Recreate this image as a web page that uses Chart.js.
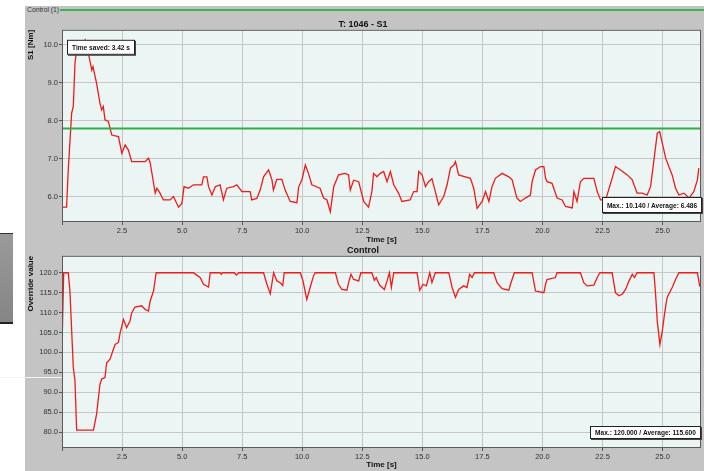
<!DOCTYPE html>
<html>
<head>
<meta charset="utf-8">
<script src="https://cdn.jsdelivr.net/npm/chart.js@4.4.1/dist/chart.umd.min.js"></script>
<style>
  body { margin: 0; background: #fff; width: 704px; height: 471px; overflow: hidden; position: relative; font-family: 'Liberation Sans', sans-serif; }
  #panel { position: absolute; left: 25px; top: 6px; width: 679px; height: 465px; background: #c4c4c4; }
  #head { position: absolute; left: 27px; top: 5px; font-size: 8px; color: #333; transform: scaleX(0.85); transform-origin: left top; }
  #headLine { position: absolute; left: 60px; top: 9px; width: 644px; height: 2px; background: #3cb44b; }
  #side { position: absolute; left: 0; top: 233px; width: 13px; height: 88px; background: linear-gradient(#9a9a9a, #858585); border-top: 1px solid #333; border-bottom: 2px solid #222; }
  #scratch { position: absolute; left: 0; top: 377px; width: 62px; height: 1px; background: #f4f4f4; }
  canvas { position: absolute; }
</style>
</head>
<body>
<div id="panel"></div>
<div id="head">Control (1)</div>
<div id="headLine"></div>
<div id="side"></div>
<canvas id="topChart" width="679" height="230" style="left:25px;top:16px"></canvas>
<canvas id="botChart" width="679" height="227" style="left:25px;top:244px"></canvas>
<div id="scratch"></div>
<script>
// dados: [tempo (s), valor]
const s1Points = [[0,5.73],[0.19,5.73],[0.26,6.71],[0.40,8.2],[0.47,8.38],[0.54,9.52],[0.61,9.87],[0.96,10.14],[1.10,9.78],[1.24,9.34],[1.29,9.43],[1.44,8.99],[1.58,8.47],[1.65,8.29],[1.72,8.38],[1.79,8.03],[1.93,7.99],[2.07,7.63],[2.35,7.59],[2.49,7.15],[2.63,7.37],[2.76,7.24],[2.90,6.93],[3.46,6.93],[3.60,7.02],[3.67,6.90],[3.88,6.10],[3.95,6.23],[4.08,6.10],[4.22,5.92],[4.50,5.92],[4.64,6.01],[4.85,5.73],[4.99,5.83],[5.08,6.27],[5.26,6.23],[5.47,6.32],[5.82,6.32],[5.89,6.53],[6.03,6.53],[6.10,6.27],[6.24,6.05],[6.38,6.27],[6.58,6.32],[6.72,5.92],[6.86,6.23],[7.14,6.27],[7.28,6.32],[7.49,6.14],[7.83,6.14],[7.90,5.92],[8.11,5.96],[8.25,6.18],[8.39,6.53],[8.60,6.71],[8.74,6.45],[8.80,6.18],[8.94,6.46],[9.15,6.46],[9.29,6.18],[9.50,5.88],[9.78,5.85],[9.85,6.26],[9.99,6.46],[10.13,6.84],[10.26,6.62],[10.40,6.32],[10.74,6.23],[10.89,5.97],[11.03,5.92],[11.17,5.61],[11.31,6.27],[11.51,6.58],[11.79,6.62],[11.93,6.58],[12.00,6.18],[12.14,6.44],[12.35,6.40],[12.56,5.88],[12.76,5.73],[12.90,6.14],[12.97,6.62],[13.11,6.53],[13.25,6.62],[13.39,6.67],[13.53,6.40],[13.67,6.67],[13.81,6.32],[14.01,6.10],[14.15,5.88],[14.49,5.92],[14.64,6.14],[14.78,6.14],[14.85,6.67],[14.99,6.58],[15.13,6.27],[15.26,6.40],[15.40,6.48],[15.54,6.14],[15.68,5.79],[15.89,6.01],[16.03,6.32],[16.17,6.76],[16.31,6.84],[16.38,6.93],[16.51,6.58],[16.79,6.53],[17.00,6.49],[17.14,6.23],[17.28,5.70],[17.49,5.88],[17.63,6.14],[17.77,5.88],[17.90,6.27],[18.04,6.49],[18.32,6.62],[18.60,6.53],[18.74,6.45],[18.81,6.27],[18.94,5.97],[19.08,5.88],[19.29,5.97],[19.50,6.05],[19.57,6.40],[19.71,6.71],[19.92,6.80],[20.06,6.80],[20.13,6.49],[20.19,6.40],[20.40,6.36],[20.61,5.97],[20.82,5.92],[20.96,5.75],[21.24,5.71],[21.31,6.14],[21.44,5.88],[21.58,6.40],[21.72,6.49],[22.14,6.49],[22.28,6.14],[22.42,5.92],[22.63,5.92],[22.90,6.49],[23.04,6.80],[23.25,6.71],[23.53,6.58],[23.74,6.45],[23.81,6.32],[23.94,6.10],[24.15,6.10],[24.36,6.05],[24.50,6.27],[24.64,6.97],[24.78,7.68],[24.88,7.72],[24.99,7.41],[25.13,7.02],[25.26,6.80],[25.40,6.58],[25.54,6.23],[25.68,6.05],[25.89,6.10],[26.10,5.97],[26.30,6.14],[26.45,6.45],[26.51,6.76]]
const overridePoints = [[0,101],[0.07,120],[0.26,120],[0.33,115.4],[0.47,96.2],[0.54,92.9],[0.61,80.5],[1.31,80.5],[1.44,84.5],[1.58,92],[1.65,93.3],[1.79,93.7],[1.86,97.4],[2.0,98.3],[2.14,100.8],[2.21,102],[2.35,102.5],[2.42,104.9],[2.56,108.3],[2.69,106.2],[2.83,107.9],[2.90,109.9],[3.04,111.4],[3.32,111.7],[3.46,110.8],[3.60,110.4],[3.67,112.9],[3.81,115.4],[3.92,120],[5.47,120],[5.61,119.4],[5.75,118.8],[5.89,117.1],[6.10,116.4],[6.17,120],[6.58,120],[6.63,119.6],[6.68,120],[7.17,120],[7.26,119.4],[7.36,120],[8.39,120],[8.53,117.1],[8.67,114.7],[8.81,120],[8.94,118],[9.08,117.5],[9.19,116.8],[9.25,120],[9.92,120],[10.03,118],[10.19,113.3],[10.33,116.3],[10.47,119.2],[10.54,120],[11.38,120],[11.51,117.1],[11.65,115.8],[11.86,115.6],[11.93,117.5],[12.03,119.6],[12.14,118.3],[12.28,118.1],[12.35,117.9],[12.44,120],[12.90,120],[13.0,118.1],[13.08,118.8],[13.22,116.9],[13.42,115.8],[13.53,117.9],[13.63,120],[13.71,116.3],[13.81,120],[14.78,120],[14.89,115.6],[15.03,117.1],[15.17,116.7],[15.31,120],[15.40,117.5],[15.54,120],[16.10,120],[16.24,116.3],[16.38,113.8],[16.51,115.8],[16.72,116.7],[16.86,116.3],[16.97,119.6],[17.07,118.8],[17.17,120],[17.97,120],[18.11,117.5],[18.32,116],[18.60,115.6],[18.67,117.1],[18.83,120],[19.57,120],[19.71,115.4],[20.06,115],[20.13,117.1],[20.19,118.3],[20.54,118.8],[20.61,120],[21.58,120],[21.72,117.5],[21.86,116.7],[22.14,116.9],[22.28,118.8],[22.39,120],[22.90,120],[23.04,115],[23.18,114.2],[23.32,114.6],[23.46,115.8],[23.60,117.9],[23.74,119.6],[23.83,118.8],[23.94,120],[24.64,120],[24.71,114.6],[24.78,107.8],[24.89,102],[24.99,105.4],[25.08,109.6],[25.19,113.8],[25.40,116.3],[25.54,118.3],[25.68,120],[26.45,120],[26.55,116.5]]
const s1Limit = 7.8
const timeRange = [0, 26.6]
const s1Range = [5.34, 10.4]
const overrideRange = [76, 124.25]
const notesTop = ['Time saved: 3.42 s', 'Max.: 10.140 / Average: 6.486']
const notesBot = ['Max.: 120.000 / Average: 115.600']

const FONT = "'Liberation Sans', sans-serif"
const NARROW = 0.82 // fonte estreita nao existe aqui, entao comprime na mao

// fundo da area do grafico, borda e caixinhas de texto
const plotFrame = {
  id: 'plotFrame',
  beforeDraw(chart) {
    const { ctx, chartArea: a } = chart
    ctx.save()
    ctx.fillStyle = '#ebf5f3'
    ctx.fillRect(a.left, a.top, a.width, a.height)
    ctx.restore()
  },
  afterDraw(chart, args, opts) {
    const { ctx, chartArea: a } = chart
    ctx.save()
    ctx.strokeStyle = '#5a5a5a'
    ctx.lineWidth = 1
    ctx.strokeRect(a.left + 0.5, a.top + 0.5, a.width - 1, a.height - 1)
    ctx.font = 'bold 8px ' + FONT
    ctx.textBaseline = 'middle'
    ;(opts.notes || []).forEach(n => {
      const tw = ctx.measureText(n.text).width * NARROW
      const w = Math.round(tw + 10)
      const h = n.h
      const x = n.side === 'left' ? a.left + n.dx : a.right + n.dx - w
      const y = n.side === 'left' ? a.top + n.dy : a.bottom + n.dy
      ctx.fillStyle = '#444'
      ctx.fillRect(x + 1, y + 1, w, h)
      ctx.fillStyle = '#fff'
      ctx.fillRect(x, y, w, h)
      ctx.strokeStyle = '#222'
      ctx.strokeRect(x + 0.5, y + 0.5, w - 1, h - 1)
      ctx.fillStyle = '#111'
      ctx.textAlign = 'left'
      ctx.save()
      ctx.translate(x + (w - tw) / 2, y + h / 2 + 0.5)
      ctx.scale(NARROW, 1)
      ctx.fillText(n.text, 0, 0)
      ctx.restore()
    })
    ctx.restore()
  }
}

function makeChart(id, cfg) {
  return new Chart(document.getElementById(id), {
    type: 'line',
    data: { datasets: cfg.datasets },
    options: {
      responsive: false,
      animation: false,
      events: [],
      layout: { padding: { left: 0, right: 3, top: 0, bottom: 0 } },
      elements: { point: { radius: 0 }, line: { tension: 0 } },
      plugins: {
        legend: { display: false },
        tooltip: { enabled: false },
        title: { display: true, text: cfg.title, color: '#111', font: { family: FONT, size: 9, weight: 'bold' }, padding: cfg.titlePad },
        plotFrame: { notes: cfg.notes }
      },
      scales: {
        x: {
          type: 'linear', min: timeRange[0], max: timeRange[1],
          afterFit: s => { s.height = cfg.xHeight },
          grid: { color: '#c6c6c6', tickColor: '#555', tickLength: 3 },
          border: { display: false },
          ticks: { stepSize: 2.5, includeBounds: false, maxRotation: 0, autoSkip: false, padding: 1, color: '#333', font: { family: FONT, size: 7.5 },
            callback: v => v === 0 ? '' : v.toFixed(1) },
          title: { display: true, text: 'Time [s]', color: '#111', font: { family: FONT, size: 8, weight: 'bold' }, padding: { top: 0, bottom: 1 } }
        },
        y: {
          min: cfg.yRange[0], max: cfg.yRange[1],
          afterFit: s => { s.width = 37 },
          grid: { color: '#c6c6c6', tickColor: '#555', tickLength: 3 },
          border: { display: false },
          ticks: { stepSize: cfg.yStep, includeBounds: false, padding: 1, color: '#333', font: { family: FONT, size: 7.5 },
            callback: v => v.toFixed(1) },
          title: { display: true, text: cfg.yTitle, align: 'end', color: '#111', font: { family: FONT, size: 8, weight: 'bold' }, padding: { top: 1, bottom: 0 } }
        }
      }
    },
    plugins: [plotFrame]
  })
}

const toXY = pts => pts.map(p => ({ x: p[0], y: p[1] }))

makeChart('topChart', {
  title: 'T: 1046 - S1',
  titlePad: { top: 3, bottom: 0 },
  xHeight: 24,
  yRange: s1Range,
  yStep: 1,
  yTitle: 'S1 [Nm]',
  datasets: [
    { data: timeRange.map(t => ({ x: t, y: s1Limit })), borderColor: '#2fae48', borderWidth: 2 },
    { data: toXY(s1Points), borderColor: '#f01a1a', borderWidth: 1.3 }
  ],
  notes: [
    { text: notesTop[0], side: 'left', dx: 5, dy: 10, h: 15 },
    { text: notesTop[1], side: 'right', dx: 1, dy: -25, h: 16 }
  ]
})

makeChart('botChart', {
  title: 'Control',
  titlePad: { top: 1, bottom: 0 },
  xHeight: 23,
  yRange: overrideRange,
  yStep: 5,
  yTitle: 'Override value',
  datasets: [
    { data: toXY(overridePoints), borderColor: '#f01a1a', borderWidth: 1.3 }
  ],
  notes: [
    { text: notesBot[0], side: 'right', dx: 0, dy: -22, h: 13 }
  ]
})
</script>
</body>
</html>
